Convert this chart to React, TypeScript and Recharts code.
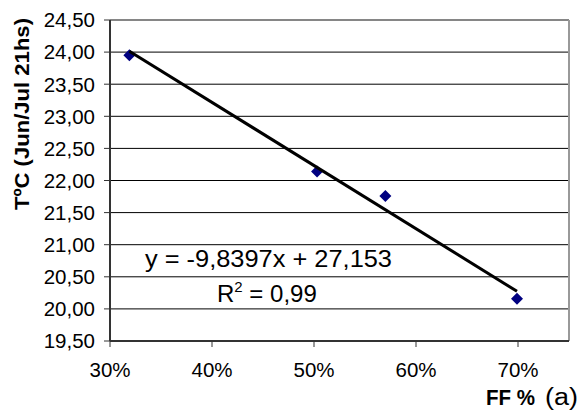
import React from 'react';
import {
  ScatterChart,
  Scatter,
  XAxis,
  YAxis,
  CartesianGrid,
  ReferenceLine,
  Label,
} from 'recharts';

// FF% (fraction) and temperature readings
const ffValues = [0.319, 0.503, 0.57, 0.699];
const tempValues = [23.95, 22.14, 21.76, 20.16];

// Excel linear trendline
const slope = -9.8397;
const intercept = 27.153;
const rSquared = '0,99';

const xTicks = [0.3, 0.4, 0.5, 0.6, 0.7];
const yTicks = [19.5, 20, 20.5, 21, 21.5, 22, 22.5, 23, 23.5, 24, 24.5];

const FONT = '"Liberation Sans", Arial, sans-serif';

const points = ffValues.map((x, i) => ({ x, y: tempValues[i] }));
const xMin = Math.min(...ffValues);
const xMax = Math.max(...ffValues);
const trend = [xMin, xMax].map(x => ({ x, y: slope * x + intercept }));

const fmtNum = (v: number) => v.toFixed(2).replace('.', ',');
const fmtPct = (v: number) => `${Math.round(v * 100)}%`;
const fmtCoef = (v: number) => String(v).replace('.', ',');

const YTick = (props: any) => {
  const { x, y, payload } = props;
  return (
    <text x={x} y={y} dy="0.36em" textAnchor="end" fontSize={20.5} fontFamily={FONT} fill="#000">
      {fmtNum(payload.value)}
    </text>
  );
};

// baseline placed a fixed distance below the axis line
const XTick = (props: any) => {
  const { x, payload } = props;
  return (
    <text x={x} y={377} textAnchor="middle" fontSize={20.5} fontFamily={FONT} fill="#000">
      {fmtPct(payload.value)}
    </text>
  );
};

const Diamond = (props: any) => {
  const { cx, cy } = props;
  const r = 6;
  return (
    <polygon
      points={`${cx},${cy - r} ${cx + r},${cy} ${cx},${cy + r} ${cx - r},${cy}`}
      fill="#000080"
    />
  );
};

const App = () => {
  const sign = intercept >= 0 ? '+' : '-';
  const equation = `y = ${fmtCoef(slope)}x ${sign} ${fmtCoef(Math.abs(intercept))}`;

  return (
    <div style={{ position: 'absolute', left: 0, top: 0, width: 580, height: 412, background: '#fff' }}>
      <ScatterChart width={580} height={412} margin={{ top: 20, right: 11, bottom: 41, left: 0 }}>
        <CartesianGrid horizontal vertical={false} stroke="#000" />
        <XAxis
          type="number"
          dataKey="x"
          domain={[0.3, 0.75]}
          ticks={xTicks}
          height={30}
          tickSize={6}
          axisLine={{ stroke: '#333', strokeWidth: 2 }}
          tickLine={{ stroke: '#333' }}
          tick={<XTick />}
        >
          <Label
            content={() => (
              <g fontFamily={FONT} fill="#000">
                <text x={486} y={405} fontSize={22} fontWeight="bold" textLength={49} lengthAdjust="spacingAndGlyphs">
                  FF %
                </text>
                <text x={545} y={405} fontSize={23} textLength={33} lengthAdjust="spacingAndGlyphs">
                  (a)
                </text>
              </g>
            )}
          />
        </XAxis>
        <YAxis
          type="number"
          dataKey="y"
          domain={[19.5, 24.5]}
          ticks={yTicks}
          width={110}
          tickSize={6}
          tickMargin={9}
          axisLine={{ stroke: '#333', strokeWidth: 2 }}
          tickLine={{ stroke: '#333' }}
          tick={<YTick />}
        >
          <Label
            content={() => (
              <text
                transform="translate(29,114) rotate(-90)"
                textAnchor="middle"
                fontSize={20}
                fontWeight="bold"
                fontFamily={FONT}
                fill="#000"
                textLength={192}
                lengthAdjust="spacingAndGlyphs"
              >
                TºC (Jun/Jul 21hs)
              </text>
            )}
          />
        </YAxis>
        <ReferenceLine y={24.5} stroke="#888" strokeWidth={1.5} />
        <ReferenceLine x={0.75} stroke="#999" strokeWidth={2}>
          <Label
            content={() => (
              <g fontFamily={FONT} fill="#000">
                <text x={145} y={267} fontSize={24} textLength={247} lengthAdjust="spacingAndGlyphs">
                  {equation}
                </text>
                <text x={217} y={302} fontSize={24}>
                  R<tspan fontSize={15} dy={-10}>2</tspan>
                  <tspan dy={10}> = {rSquared}</tspan>
                </text>
              </g>
            )}
          />
        </ReferenceLine>
        <Scatter data={points} shape={<Diamond />} isAnimationActive={false} />
        <Scatter
          data={trend}
          line={{ stroke: '#000', strokeWidth: 3 }}
          shape={() => <g />}
          isAnimationActive={false}
        />
      </ScatterChart>
    </div>
  );
};

export default App;
